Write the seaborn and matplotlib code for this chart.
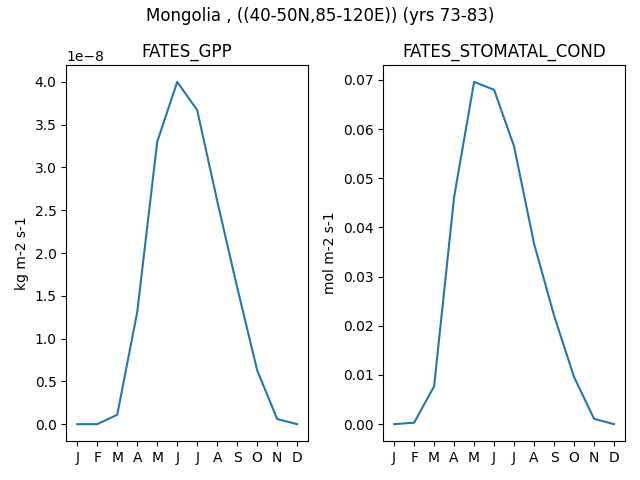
import numpy as np
import pandas as pd
import matplotlib
matplotlib.use("Agg")
import matplotlib.pyplot as plt
import seaborn as sns

# ------------------------------------------------------------
# Data (monthly climatology)
# ------------------------------------------------------------
months = ["J", "F", "M", "A", "M", "J", "J", "A", "S", "O", "N", "D"]
gpp = [0.0, 0.0, 0.11e-8, 1.31e-8, 3.30e-8, 4.00e-8, 3.67e-8,
       2.61e-8, 1.60e-8, 0.63e-8, 0.06e-8, 0.0]
stomatal_cond = [0.0, 0.0003, 0.0077, 0.0462, 0.0696, 0.0680, 0.0565,
                 0.0367, 0.0221, 0.0096, 0.0011, 0.0]

df = pd.DataFrame({
    "month": np.arange(len(months)),
    "FATES_GPP": gpp,
    "FATES_STOMATAL_COND": stomatal_cond,
})

panels = [
    ("FATES_GPP", "kg m-2 s-1"),
    ("FATES_STOMATAL_COND", "mol m-2 s-1"),
]

# ------------------------------------------------------------
# Plot
# ------------------------------------------------------------
fig, axes = plt.subplots(1, 2, figsize=(6.4, 4.8), dpi=100)

for ax, (var, units) in zip(axes, panels):
    sns.lineplot(data=df, x="month", y=var, ax=ax, color="#1f77b4")
    ax.set_title(var)
    ax.set_xlabel("")
    ax.set_ylabel(units)
    ax.set_xticks(df["month"])
    ax.set_xticklabels(months)

fig.suptitle("Mongolia , ((40-50N,85-120E)) (yrs 73-83)", y=0.985)
fig.tight_layout()
fig.subplots_adjust(top=0.865)
fig.savefig("out.png")
